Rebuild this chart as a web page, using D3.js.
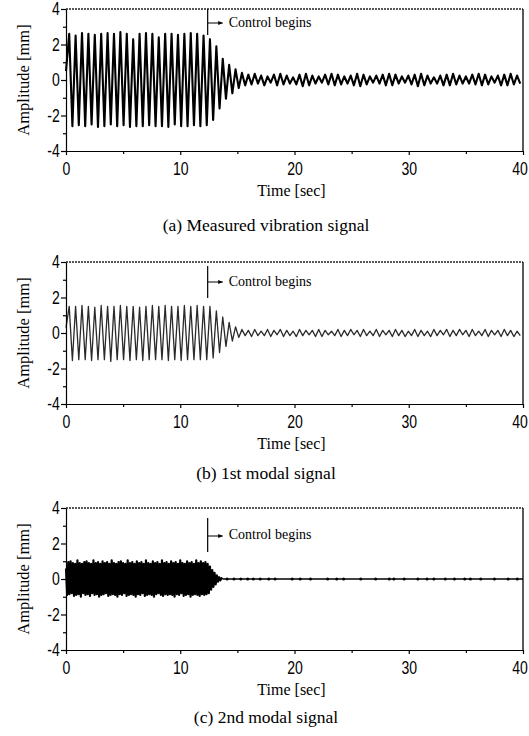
<!DOCTYPE html>
<head>
    <meta charset="utf-8">
    <title>Vibration control signals</title>
    <style>
        body { margin: 0; background: #fff; }
        .tick text { font-family: "Liberation Sans", Arial, sans-serif; font-size: 18px; fill: #000; }
        .tick line, .domain { stroke: #000; stroke-width: 1.2px; }
        .lbl { font-family: "Liberation Serif", "Times New Roman", serif; fill: #000; }
    </style>
</head>
<body>
    <script src="https://d3js.org/d3.v7.min.js"></script>
    <script>

        // ---- data ----
        var timeDomain = [0, 40];
        var ampDomain = [-4, 4];
        var xMajor = [0, 10, 20, 30, 40];
        var xMinor = [5, 15, 25, 35];
        var yMajor = [-4, -2, 0, 2, 4];
        var yMinor = [-3, -1, 1, 3];
        var controlTime = 12.4;

        // (a) measured signal: extremes, one every 0.28 s from t = 0
        var measuredStep = 0.28;
        var measuredVals = [
            0.5, 2.6, -2.6, 2.5, -2.55, 2.65, -2.6, 2.6, -2.5, 2.55,
            -2.65, 2.6, -2.6, 2.65, -2.5, 2.6, -2.6, 2.7, -2.55, 2.6,
            -2.65, 2.3, -2.6, 2.6, -2.6, 2.65, -2.55, 2.6, -2.6, 2.4,
            -2.6, 2.6, -2.65, 2.6, -2.5, 2.55, -2.6, 2.6, -2.6, 2.65,
            -2.55, 2.6, -2.6, 2.5, -2.55,
            2.3, -2.25, 1.9, -1.6, 1.2, -1.05, 0.85, -0.75, 0.6, -0.45, 0.4, -0.3,
            0.3, -0.25, 0.35, -0.2, 0.25, -0.3, 0.2, -0.15, 0.3, -0.3,
            0.35, -0.25, 0.25, -0.2, 0.15, -0.25, 0.3, -0.35, 0.35, -0.3,
            0.25, -0.2, 0.2, -0.15, 0.3, -0.25, 0.35, -0.3, 0.3, -0.25,
            0.2, -0.2, 0.25, -0.3, 0.35, -0.35, 0.3, -0.25, 0.2, -0.15,
            0.25, -0.2, 0.3, -0.3, 0.35, -0.3, 0.3, -0.2, 0.2, -0.15,
            0.25, -0.25, 0.3, -0.35, 0.35, -0.3, 0.25, -0.2, 0.15, -0.2,
            0.25, -0.3, 0.3, -0.3, 0.35, -0.25, 0.25, -0.2, 0.2, -0.2,
            0.3, -0.25, 0.35, -0.3, 0.3, -0.25, 0.2, -0.15, 0.25, -0.3,
            0.3, -0.3, 0.35, -0.25, 0.25, -0.2
        ];

        // (b) 1st modal signal, same spacing
        var modal1Step = 0.28;
        var modal1Vals = [
            0.3, 1.5, -1.55, 1.5, -1.5, 1.55, -1.5, 1.5, -1.55, 1.45,
            -1.5, 1.55, -1.5, 1.5, -1.6, 1.5, -1.5, 1.55, -1.5, 1.5,
            -1.55, 1.5, -1.5, 1.45, -1.55, 1.5, -1.5, 1.55, -1.5, 1.5,
            -1.5, 1.55, -1.55, 1.5, -1.5, 1.5, -1.55, 1.55, -1.5, 1.5,
            -1.5, 1.55, -1.5, 1.5, -1.5,
            1.5, -1.4, 1.25, -1.1, 0.9, -0.75, 0.6, -0.45, 0.35, -0.25, 0.2, -0.15,
            0.15, -0.2, 0.2, -0.15, 0.1, -0.15, 0.2, -0.2, 0.15, -0.1,
            0.2, -0.2, 0.15, -0.15, 0.1, -0.2, 0.2, -0.15, 0.15, -0.1,
            0.15, -0.2, 0.2, -0.2, 0.15, -0.1, 0.1, -0.15, 0.2, -0.2,
            0.15, -0.15, 0.2, -0.1, 0.15, -0.2, 0.2, -0.15, 0.1, -0.15,
            0.2, -0.2, 0.15, -0.1, 0.15, -0.2, 0.2, -0.15, 0.15, -0.2,
            0.1, -0.15, 0.2, -0.2, 0.15, -0.15, 0.1, -0.2, 0.2, -0.15,
            0.15, -0.1, 0.2, -0.2, 0.15, -0.15, 0.2, -0.1, 0.15, -0.2,
            0.2, -0.15, 0.1, -0.15, 0.2, -0.2, 0.15, -0.1, 0.15, -0.2,
            0.2, -0.15, 0.15, -0.2, 0.1, -0.15
        ];

        // (c) 2nd modal signal: extremes every 0.1 s until it dies out
        var modal2Step = 0.1;
        var modal2Vals = [
            0.6, -0.9, 0.95, -0.85, 1.0, -0.8, 0.9, -0.95, 0.85, -0.9,
            1.05, -0.85, 0.9, -1.0, 0.85, -0.8, 0.95, -0.9, 1.0, -0.85,
            0.9, -0.95, 0.85, -0.8, 1.05, -0.9, 0.9, -0.85, 0.95, -1.0,
            0.85, -0.9, 1.0, -0.85, 0.9, -0.8, 0.95, -0.95, 0.85, -0.9,
            1.05, -0.85, 0.9, -0.9, 0.85, -1.0, 0.95, -0.85, 1.0, -0.9,
            0.9, -0.8, 0.85, -0.95, 1.05, -0.9, 0.9, -0.85, 0.95, -0.9,
            0.85, -1.0, 1.0, -0.85, 0.9, -0.9, 0.95, -0.8, 0.85, -0.95,
            1.05, -0.9, 0.9, -0.85, 0.85, -0.9, 1.0, -1.0, 0.9, -0.85,
            0.95, -0.8, 0.85, -0.9, 1.05, -0.95, 0.9, -0.85, 0.95, -0.9,
            0.85, -0.85, 1.0, -0.9, 0.9, -1.0, 0.95, -0.85, 0.85, -0.9,
            1.05, -0.8, 0.9, -0.95, 0.85, -0.9, 1.0, -0.85, 0.9, -1.0,
            0.95, -0.9, 0.85, -0.85, 1.05, -0.9, 0.9, -0.95, 1.0, -0.85,
            0.9, -0.9, 0.95, -0.85,
            0.85, -0.8, 0.7, -0.6, 0.5, -0.45, 0.35, -0.3, 0.2, -0.15, 0.1, -0.08, 0.05, 0
        ];
        var modal2RestTimes = [13.7, 40];
        var modal2RestVals = [0, 0];
        var modal2Blips = [14.1, 14.7, 15.3, 15.9, 16.4, 17.0, 17.75, 18.3, 19.8, 20.5,
            21.4, 22.9, 23.7, 24.3, 25.8, 27.1, 28.3, 28.7, 29.6, 30.8, 31.6, 32.2,
            33.2, 34.0, 34.9, 35.4, 36.3, 37.5, 38.7, 39.5];

        var captions = ["(a) Measured vibration signal", "(b) 1st modal signal", "(c) 2nd modal signal"];

        // ---- layout ----
        var width = 529, height = 736;
        var left = 66, right = 523, plotH = 142;

        var panels = [
            { top: 9, vals: measuredVals, step: measuredStep, sw: 2.1, color: "#000",
              mark: [0, 26], arrow: 14, textY: 18, capY: 231 },
            { top: 262, vals: modal1Vals, step: modal1Step, sw: 1.3, color: "#2a2a2a",
              mark: [4, 36], arrow: 20, textY: 24, capY: 479 },
            { top: 508, vals: modal2Vals, step: modal2Step, sw: 2.2, color: "#000",
              mark: [10, 44], arrow: 28, textY: 31, capY: 723,
              restT: modal2RestTimes, restV: modal2RestVals, blips: modal2Blips }
        ];

        var svg = d3.select("body").append("svg")
            .attr("width", width)
            .attr("height", height);

        var defs = svg.append("defs");
        defs.append("marker")
            .attr("id", "arrowhead")
            .attr("viewBox", "0 0 10 10")
            .attr("refX", 9).attr("refY", 5)
            .attr("markerWidth", 5).attr("markerHeight", 5)
            .attr("orient", "auto")
            .append("path")
            .attr("d", "M0,1 L10,5 L0,9 Z")
            .attr("fill", "#000");

        var x = d3.scaleLinear().domain(timeDomain).range([left, right]);

        panels.forEach(function (p, k) {
            var bottom = p.top + plotH;
            var y = d3.scaleLinear().domain(ampDomain).range([bottom, p.top]);
            var g = svg.append("g");

            // frame: dotted top, solid right
            g.append("line")
                .attr("x1", left).attr("x2", right)
                .attr("y1", p.top).attr("y2", p.top)
                .attr("stroke", "#222").attr("stroke-width", 1.3)
                .attr("stroke-dasharray", "2,1");
            g.append("line")
                .attr("x1", right).attr("x2", right)
                .attr("y1", p.top).attr("y2", bottom)
                .attr("stroke", "#000").attr("stroke-width", 1.3);

            // signal
            var line = d3.line()
                .x(function (d) { return x(d[0]); })
                .y(function (d) { return y(d[1]); });

            var pts = p.vals.map(function (v, i) { return [i * p.step, v]; });
            g.append("path")
                .datum(pts)
                .attr("fill", "none")
                .attr("stroke", p.color)
                .attr("stroke-width", p.sw)
                .attr("stroke-linejoin", "round")
                .attr("d", line);

            if (p.restT) {
                var rest = p.restT.map(function (t, i) { return [t, p.restV[i]]; });
                g.append("path")
                    .datum(rest)
                    .attr("fill", "none")
                    .attr("stroke", "#000")
                    .attr("stroke-width", 1.6)
                    .attr("d", line);
                g.selectAll("circle.blip")
                    .data(p.blips)
                    .enter().append("circle")
                    .attr("class", "blip")
                    .attr("cx", function (d) { return x(d); })
                    .attr("cy", y(0))
                    .attr("r", 1.5)
                    .attr("fill", "#000");
            }

            // axes
            g.append("g")
                .attr("transform", "translate(" + left + ",0)")
                .call(d3.axisLeft(y).tickValues(yMajor).tickSize(5).tickPadding(3)
                    .tickSizeOuter(0).tickFormat(function (d) { return String(d); }))
                .selectAll(".tick text")
                .attr("transform", "scale(0.78,1)");
            g.append("g")
                .attr("transform", "translate(" + left + ",0)")
                .call(d3.axisLeft(y).tickValues(yMinor).tickSize(3).tickFormat(""))
                .select(".domain").remove();

            var xAx = g.append("g")
                .attr("transform", "translate(0," + bottom + ")")
                .call(d3.axisBottom(x).tickValues(xMajor).tickSize(4).tickPadding(7)
                    .tickSizeOuter(0).tickFormat(function (d) { return String(d); }));
            xAx.selectAll(".tick text")
                .attr("transform", "scale(0.78,1)")
                .attr("dx", function (d) { return d === 40 ? "-0.25em" : 0; });
            g.append("g")
                .attr("transform", "translate(0," + bottom + ")")
                .call(d3.axisBottom(x).tickValues(xMinor).tickSize(3).tickFormat(""))
                .select(".domain").remove();

            // axis titles
            g.append("text")
                .attr("class", "lbl")
                .attr("transform", "translate(29," + (p.top + plotH / 2) + ") rotate(-90)")
                .attr("text-anchor", "middle")
                .style("font-size", "16.5px")
                .text("Amplitude [mm]");

            g.append("text")
                .attr("class", "lbl")
                .attr("x", (left + right) / 2 - 3)
                .attr("y", bottom + 45)
                .attr("text-anchor", "middle")
                .style("font-size", "16px")
                .text("Time [sec]");

            g.append("text")
                .attr("class", "lbl")
                .attr("x", 266)
                .attr("y", p.capY)
                .attr("text-anchor", "middle")
                .style("font-size", "17.5px")
                .text(captions[k]);

            // control marker
            var cx = x(controlTime);
            g.append("line")
                .attr("x1", cx).attr("x2", cx)
                .attr("y1", p.top + p.mark[0]).attr("y2", p.top + p.mark[1])
                .attr("stroke", "#000").attr("stroke-width", 1.2);
            g.append("line")
                .attr("x1", cx).attr("x2", cx + 15)
                .attr("y1", p.top + p.arrow).attr("y2", p.top + p.arrow)
                .attr("stroke", "#000").attr("stroke-width", 1)
                .attr("marker-end", "url(#arrowhead)");
            g.append("text")
                .attr("class", "lbl")
                .attr("x", cx + 21)
                .attr("y", p.top + p.textY)
                .style("font-size", "14px")
                .text("Control begins");
        });

    </script>
</body>
